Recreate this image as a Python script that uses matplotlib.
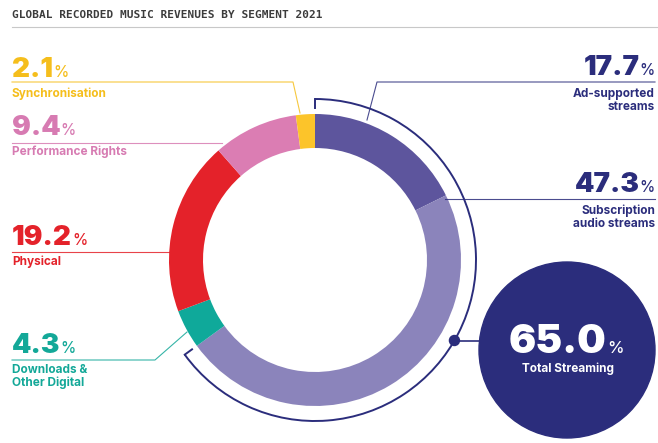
import numpy as np
import matplotlib
matplotlib.use('Agg')
import matplotlib.pyplot as plt
from matplotlib.patches import Arc, Circle

# data
segments = ['Ad-supported streams', 'Subscription audio streams', 'Downloads & Other Digital',
            'Physical', 'Performance Rights', 'Synchronisation']
shares = [17.7, 47.3, 4.3, 19.2, 9.4, 2.1]
streaming = ['Ad-supported streams', 'Subscription audio streams']
seg_colors = ['#5d559d', '#8b84bb', '#0fa99a', '#e4222a', '#db7db3', '#fcc42a']

left_labels = ['Synchronisation', 'Performance Rights', 'Physical', 'Downloads &\nOther Digital']
right_labels = ['Ad-supported\nstreams', 'Subscription\naudio streams']

W, H = 658, 443
fig = plt.figure(figsize=(W / 100, H / 100), dpi=100)
ax = fig.add_axes([0, 0, 1, 1])

cx, cy, R = 315, 260, 146
ax.pie(shares, colors=seg_colors, startangle=-90, counterclock=True,
       center=(cx, cy), radius=R, wedgeprops=dict(width=34, linewidth=0))
ax.set_xlim(0, W)
ax.set_ylim(H, 0)
ax.set_aspect('equal')
ax.axis('off')

navy = '#2b2d7c'
NUM_FONT = 'Inter'
LAB_FONT = 'Inter'

# title
ax.text(12, 15, 'GLOBAL RECORDED MUSIC REVENUES BY SEGMENT 2021', family='DejaVu Sans Mono',
        weight='bold', fontsize=8, color='#3c3c3c', va='center', ha='left')
ax.plot([12, W], [27, 27], color='#c8c8c8', lw=0.8)

share_of = dict(zip(segments, shares))
text_col = {'Synchronisation': '#f5be1c', 'Performance Rights': '#d77bb2', 'Physical': '#e4222a',
            'Downloads & Other Digital': '#13a898', 'Ad-supported streams': navy,
            'Subscription audio streams': navy}


def big_number(x, base, value, color, ha='left', size=20, psize=11):
    if ha == 'left':
        t = ax.text(x, base, f'{value:.1f}', family=NUM_FONT, weight=900, fontsize=size,
                    color=color, ha='left', va='baseline')
        ax.annotate('%', xy=(1, base), xycoords=(t, 'data'), xytext=(0, 0),
                    textcoords='offset points', family=NUM_FONT, weight=500, fontsize=psize,
                    color=color, ha='left', va='baseline')
    else:
        p = ax.text(x, base, '%', family=NUM_FONT, weight=500, fontsize=psize, color=color,
                    ha='right', va='baseline')
        ax.annotate(f'{value:.1f}', xy=(0, base), xycoords=(p, 'data'), xytext=(0, 0),
                    textcoords='offset points', family=NUM_FONT, weight=900,
                    fontsize=size, color=color, ha='right', va='baseline')


def sub_label(x, base, text, color, ha='left'):
    for i, line in enumerate(text.split('\n')):
        ax.text(x, base + i * 13, line, family=LAB_FONT, weight='bold', fontsize=8.5,
                color=color, ha=ha, va='baseline')


# left side labels
left_keys = ['Synchronisation', 'Performance Rights', 'Physical', 'Downloads & Other Digital']
left_base = [77, 135, 245, 353]
left_lines = [[(12, 82), (293, 82), (300, 113)],
              [(12, 143), (222, 143)],
              [(12, 252), (170, 252)],
              [(12, 360), (155, 360), (187, 332)]]
for key, lab, b, pts in zip(left_keys, left_labels, left_base, left_lines):
    c = text_col[key]
    big_number(12, b, share_of[key], c)
    xs, ys = zip(*pts)
    ax.plot(xs, ys, color=c, lw=0.8, alpha=0.85)
    sub_label(12, b + 20, lab, c)

# right side labels
right_keys = ['Ad-supported streams', 'Subscription audio streams']
right_base = [75, 192]
right_lines = [[(655, 82), (377, 82), (367, 120)],
               [(655, 199), (445, 199)]]
for key, lab, b, pts in zip(right_keys, right_labels, right_base, right_lines):
    big_number(655, b, share_of[key], navy, ha='right')
    xs, ys = zip(*pts)
    ax.plot(xs, ys, color=navy, lw=0.8, alpha=0.85)
    sub_label(655, b + 22, lab, navy, ha='right')

# streaming bracket arc
total_stream = sum(share_of[k] for k in streaming)
r_arc = 161
a0 = -90
a1 = -90 + 360 * total_stream / 100
ax.add_patch(Arc((cx, cy), 2 * r_arc, 2 * r_arc, theta1=a0, theta2=a1, color=navy, lw=1.4))
for a in (a0, a1):
    t = np.deg2rad(a)
    ax.plot([cx + r_arc * np.cos(t), cx + 152 * np.cos(t)],
            [cy + r_arc * np.sin(t), cy + 152 * np.sin(t)], color=navy, lw=1.4)

dot_a = np.deg2rad(30)
dx, dy = cx + r_arc * np.cos(dot_a), cy + r_arc * np.sin(dot_a)
bcx, bcy, br = 567, 350, 88
ax.plot([dx, bcx - np.sqrt(br ** 2 - (bcy - dy) ** 2)], [dy, dy], color=navy, lw=1.2)
ax.add_patch(Circle((dx, dy), 5, color=navy, zorder=5))
ax.add_patch(Circle((bcx, bcy), br, color=navy, zorder=4))

t = ax.text(bcx - 9, 353, f'{total_stream:.1f}', family=NUM_FONT, weight=900, fontsize=29,
            color='white', ha='center', va='baseline', zorder=6)
ax.annotate('%', xy=(1, 353), xycoords=(t, 'data'), xytext=(0, 0), textcoords='offset points',
            family=NUM_FONT, weight=500, fontsize=12, color='white', ha='left', va='baseline',
            zorder=6)
ax.text(bcx + 1, 372, 'Total Streaming', family=LAB_FONT, weight='bold', fontsize=8.5,
        color='white', ha='center', va='baseline', zorder=6)

fig.savefig('out.png', dpi=100)
